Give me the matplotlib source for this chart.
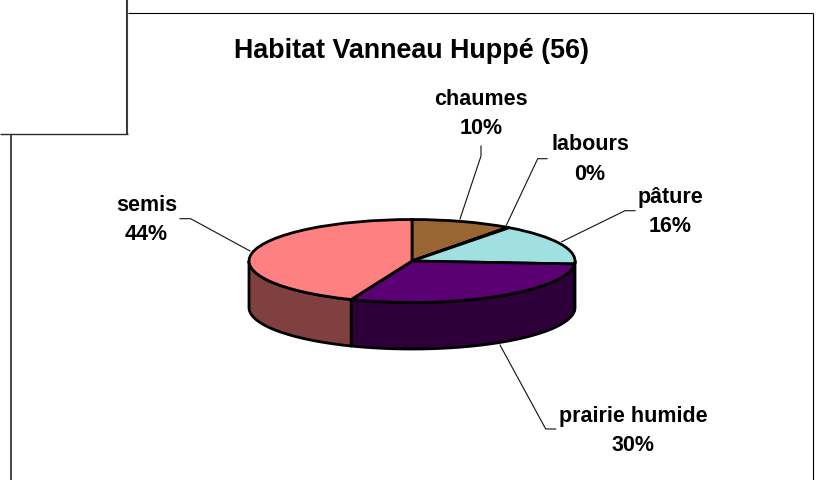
import numpy as np
import matplotlib
matplotlib.use("Agg")
import matplotlib.pyplot as plt
from matplotlib.patches import Polygon

plt.rcParams['font.family'] = ['Liberation Sans', 'DejaVu Sans']

title = "Habitat Vanneau Huppé (56)"
categories = ["chaumes", "labours", "pâture", "prairie humide", "semis"]
values = [10, 0.2, 16, 30, 44]
shown_pct = [10, 0, 16, 30, 44]
top_colors = ["#996633", "#996633", "#A0E0E0", "#5B0073", "#FF8080"]
side_colors = ["#4D331A", "#4D331A", "#507070", "#2E003A", "#804040"]

W, H = 818, 480
CX, CY, RX, RY, DEPTH = 412, 261, 163, 41.5, 46.5

fig = plt.figure(figsize=(W / 100, H / 100), dpi=100, facecolor="white")
ax = fig.add_axes([0, 0, 1, 1])


def px(x, y):
    return (x, H - y)


# pie axes: one data unit is RX px across and RY px high
pie_ax = fig.add_axes([(CX - RX) / W, (H - CY - RY) / H, 2 * RX / W, 2 * RY / H])
pie_ax.set_zorder(3)
pie_ax.patch.set_alpha(0)

ax.set_xlim(0, W)
ax.set_ylim(0, H)
ax.axis("off")

# frame
frame = [
    ([(128, 13), (813, 13)], "black", 0.8),
    ([(812.8, 13), (812.8, 480)], "black", 0.8),
    ([(127, 0), (127, 134)], "#3A3A3A", 1.5),
    ([(0, 134), (127.5, 134)], "#2A2A2A", 1.0),
    ([(11, 134), (11, 480)], "#2A2A2A", 1.2),
]
for (a, b), col, lw in frame:
    ax.plot(*zip(px(*a), px(*b)), color=col, lw=lw, solid_capstyle="butt")

# side walls
total = sum(values)
edges = np.cumsum([0] + values) / total * 360
for i in range(len(values)):
    a0, a1 = max(edges[i], 90), min(edges[i + 1], 270)
    if a1 <= a0:
        continue
    th = np.radians(np.linspace(a0, a1, 80))
    xs = CX + RX * np.sin(th)
    ys = CY - RY * np.cos(th)
    top = [px(x, y) for x, y in zip(xs, ys)]
    bot = [px(x, y + DEPTH) for x, y in zip(xs, ys)][::-1]
    ax.add_patch(Polygon(top + bot, closed=True, facecolor=side_colors[i],
                         edgecolor="black", lw=2.0, joinstyle="round", zorder=2))

# top face
pie_ax.pie(values, colors=top_colors, startangle=90, counterclock=False, radius=1,
           wedgeprops=dict(edgecolor="black", linewidth=2.0), frame=False)
pie_ax.set_aspect("auto")
pie_ax.set_xlim(-1, 1)
pie_ax.set_ylim(-1, 1)
pie_ax.axis("off")

# leader lines
leaders = [
    [(481, 146), (481, 156), (460, 219)],
    [(547, 158.7), (537.7, 158.7), (506, 226)],
    [(635, 210.7), (625, 210.7), (561.7, 241.7)],
    [(180, 218.7), (190.7, 218.7), (250, 251)],
    [(500, 345), (545.7, 429), (555.7, 429)],
]
for pts in leaders:
    ax.plot(*zip(*[px(*p) for p in pts]), color="#111111", lw=0.8, zorder=1)

# labels
label_xy = [(481, 114), (590, 159.5), (670, 212), (146.5, 220), (633, 431)]
order = [0, 1, 2, 4, 3]
for k, (x, y) in zip(order, label_xy):
    ax.text(x, H - y, f"{categories[k]}\n{shown_pct[k]}%", ha="center", va="center",
            fontsize=15.5, fontweight="bold", color="black", linespacing=1.5, zorder=5)

ax.text(412, H - 51, title, ha="center", va="center", fontsize=19.4,
        fontweight="bold", color="black", zorder=5)

fig.savefig("out.png", dpi=100)
